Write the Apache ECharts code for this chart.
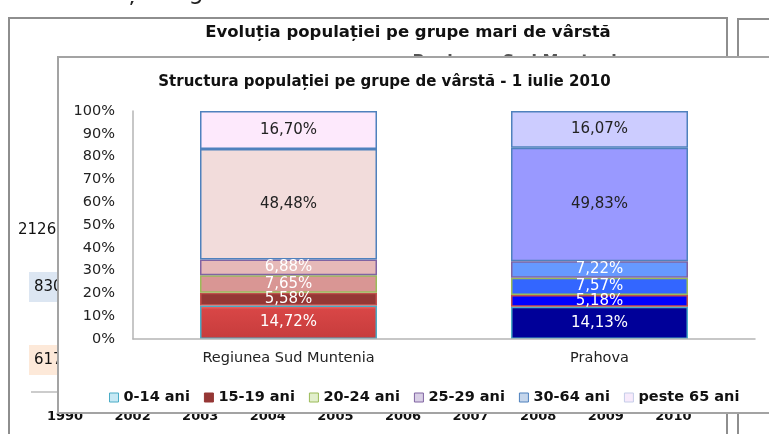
<!DOCTYPE html>
<html>
<head>
    <meta charset="UTF-8">
    <title>Structura populației pe grupe de vârstă</title>
    <script src="https://cdn.jsdelivr.net/npm/echarts@6/dist/echarts.min.js"></script>
    <style>
        html, body { margin: 0; padding: 0; background: #fff; }
        #chart { width: 769px; height: 434px; }
    </style>
</head>
<body>
    <div id="chart"></div>
    <script>
        // date
        const categories = ['Regiunea Sud Muntenia', 'Prahova'];
        const groups = ['0-14 ani', '15-19 ani', '20-24 ani', '25-29 ani', '30-64 ani', 'peste 65 ani'];
        const regiunea = [14.72, 5.58, 7.65, 6.88, 48.48, 16.70];
        const prahova = [14.13, 5.18, 7.57, 7.22, 49.83, 16.07];

        // graficul din spate (vizibil doar partial)
        const bgYears = ['1990', '2002', '2003', '2004', '2005', '2006', '2007', '2008', '2009', '2010'];
        const bgValues = ['2126', '830', '617'];

        // culori
        const regColors = ['#d24242', '#953735', '#d99694', '#e6b9b8', '#f2dcdb', '#fde9fc'];
        const praColors = ['#000099', '#0000ff', '#3366ff', '#6699ff', '#9999ff', '#ccccff'];
        const borderColors = ['#4bacc6', '#c0504d', '#9bbb59', '#8064a2', '#4f81bd', '#4f81bd'];
        const legendFill = ['#c6e9f5', '#953735', '#e2efcc', '#d9cfe6', '#c5d6ec', '#f7eafb'];
        const legendBorder = ['#4bacc6', '#953735', '#9bbb59', '#8064a2', '#4f81bd', '#c5cde8'];

        const font = "'DejaVu Sans', Verdana, sans-serif";

        const chart = echarts.init(document.getElementById('chart'));

        function fmt(v) {
            return v.toFixed(2).replace('.', ',') + '%';
        }

        const background = [];
        background.push({
            type: 'text', z: 0, left: 60, top: -19,
            style: { text: 'Evoluția regiunii', font: '24px ' + font, fill: '#222' }
        });
        background.push({
            type: 'rect', z: 0,
            shape: { x: 9, y: 18, width: 718, height: 430 },
            style: { fill: '#fff', stroke: '#8e8e8e', lineWidth: 2 }
        });
        background.push({
            type: 'rect', z: 0,
            shape: { x: 738, y: 19, width: 60, height: 430 },
            style: { fill: '#fff', stroke: '#8e8e8e', lineWidth: 2 }
        });
        background.push({
            type: 'text', z: 0, x: 408, y: 33,
            style: {
                text: 'Evoluția populației pe grupe mari de vârstă',
                font: "bold 16.5px " + font, fill: '#111', align: 'center', verticalAlign: 'middle'
            }
        });
        background.push({
            type: 'text', z: 0, x: 520, y: 54,
            style: {
                text: 'Regiunea Sud Muntenia',
                font: "bold 16px " + font, fill: '#555', align: 'center', verticalAlign: 'top'
            }
        });
        background.push({
            type: 'text', z: 0, x: 18, y: 230,
            style: { text: bgValues[0], font: '15px ' + font, fill: '#111', verticalAlign: 'middle' }
        });
        background.push({
            type: 'rect', z: 0, shape: { x: 29, y: 272, width: 30, height: 30 },
            style: { fill: '#dce6f2' }
        });
        background.push({
            type: 'text', z: 0, x: 34, y: 287,
            style: { text: bgValues[1], font: '15px ' + font, fill: '#111', verticalAlign: 'middle' }
        });
        background.push({
            type: 'rect', z: 0, shape: { x: 29, y: 345, width: 30, height: 30 },
            style: { fill: '#fde9d9' }
        });
        background.push({
            type: 'text', z: 0, x: 34, y: 360,
            style: { text: bgValues[2], font: '15px ' + font, fill: '#111', verticalAlign: 'middle' }
        });
        background.push({
            type: 'line', z: 0, shape: { x1: 31, y1: 392, x2: 60, y2: 392 },
            style: { stroke: '#999', lineWidth: 1 }
        });
        bgYears.forEach(function (y, i) {
            background.push({
                type: 'text', z: 0, x: 65 + i * 67.6, y: 417,
                style: { text: y, font: 'bold 13px ' + font, fill: '#111', align: 'center', verticalAlign: 'middle' }
            });
        });
        // cadrul graficului principal
        background.push({
            type: 'rect', z: 1,
            shape: { x: 58, y: 57, width: 730, height: 356 },
            style: { fill: '#fff', stroke: '#a3a3a3', lineWidth: 2 }
        });

        const series = groups.map(function (g, i) {
            let regItem = { value: regiunea[i], itemStyle: { color: regColors[i] } };
            if (i === 0) {
                regItem.itemStyle.color = new echarts.graphic.LinearGradient(0, 0, 0, 1, [
                    { offset: 0, color: '#f07272' },
                    { offset: 0.12, color: '#d84646' },
                    { offset: 1, color: '#c63c3c' }
                ]);
            }
            return {
                name: g,
                type: 'bar',
                stack: 'total',
                barWidth: 177,
                z: 4,
                itemStyle: { color: legendFill[i], borderColor: borderColors[i], borderWidth: 1.5 },
                label: {
                    show: true,
                    position: 'inside',
                    fontFamily: font,
                    fontSize: 15,
                    color: i >= 4 ? '#222' : '#fff',
                    formatter: function (p) { return fmt(p.value); }
                },
                data: [regItem, { value: prahova[i], itemStyle: { color: praColors[i] } }]
            };
        });

        const option = {
            animation: false,
            backgroundColor: '#fff',
            title: {
                text: 'Structura populației pe grupe de vârstă - 1 iulie 2010',
                left: 'center',
                top: 70,
                textStyle: { fontFamily: font, fontSize: 15, fontWeight: 'bold', color: '#111' }
            },
            graphic: background,
            legend: {
                left: 104,
                top: 385,
                itemWidth: 9,
                itemHeight: 9,
                itemGap: 14,
                icon: 'rect',
                textStyle: { fontFamily: font, fontSize: 14.5, fontWeight: 'bold', color: '#111' },
                data: groups.map(function (g, i) {
                    return { name: g, itemStyle: { color: legendFill[i], borderColor: legendBorder[i], borderWidth: 1 } };
                })
            },
            grid: { left: 133, right: 14, top: 111, bottom: 95 },
            xAxis: {
                type: 'category',
                data: categories,
                z: 5,
                axisLine: { lineStyle: { color: '#b5b5b5', width: 1.5 } },
                axisTick: { show: false },
                axisLabel: { fontFamily: font, fontSize: 14.5, color: '#222', margin: 12 }
            },
            yAxis: {
                type: 'value',
                min: 0,
                max: 100,
                interval: 10,
                z: 5,
                axisLine: { show: true, lineStyle: { color: '#b5b5b5', width: 1.5 } },
                axisTick: { show: false },
                splitLine: { show: false },
                axisLabel: { fontFamily: font, fontSize: 14.5, color: '#222', margin: 18, formatter: '{value}%' }
            },
            series: series
        };

        chart.setOption(option);
    </script>
</body>
</html>
